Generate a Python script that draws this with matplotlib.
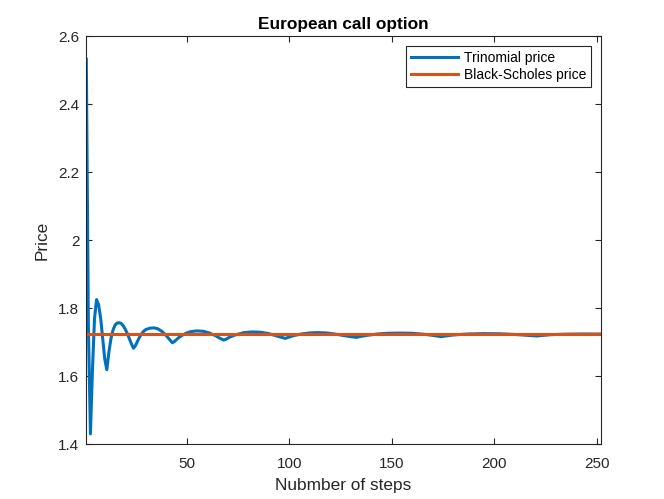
import matplotlib
matplotlib.use("Agg")
import matplotlib.pyplot as plt
from matplotlib.ticker import FormatStrFormatter

# values
steps = [1, 2, 3, 4, 5, 6, 7, 8, 9, 10, 11, 12, 13, 14, 15, 16, 17, 18, 19, 20,
         21, 22, 23, 24, 25, 26, 27, 28, 29, 30, 32, 34, 36, 38, 40, 42, 43, 44,
         46, 48, 50, 52, 55, 58, 61, 64, 66, 68, 69, 71, 74, 78, 82, 86, 90, 94,
         98, 99, 102, 106, 110, 114, 118, 122, 126, 130, 133, 134, 138, 143, 148,
         154, 160, 166, 171, 174, 175, 180, 187, 195, 203, 210, 216, 221, 222,
         228, 235, 243, 252]
trinomial = [2.532, 1.75, 1.43, 1.62, 1.77, 1.825, 1.81, 1.77, 1.71, 1.65, 1.619,
             1.67, 1.71, 1.735, 1.75, 1.756, 1.757, 1.755, 1.748, 1.738, 1.725,
             1.71, 1.695, 1.682, 1.69, 1.703, 1.715, 1.725, 1.732, 1.737, 1.741,
             1.742, 1.739, 1.731, 1.719, 1.705, 1.698, 1.702, 1.713, 1.721, 1.727,
             1.731, 1.733, 1.732, 1.727, 1.719, 1.712, 1.706, 1.708, 1.715, 1.722,
             1.728, 1.730, 1.729, 1.725, 1.718, 1.711, 1.713, 1.719, 1.724, 1.727,
             1.728, 1.727, 1.724, 1.720, 1.716, 1.714, 1.716, 1.720, 1.724, 1.726,
             1.7265, 1.726, 1.723, 1.719, 1.716, 1.717, 1.721, 1.724, 1.725,
             1.7245, 1.7225, 1.720, 1.718, 1.719, 1.722, 1.7235, 1.724, 1.7238]
bs_price = 1.7228
bs_steps = [1, 252]

plt.rcParams['font.family'] = ['Liberation Sans', 'DejaVu Sans']
axcol = '#262626'

fig = plt.figure(figsize=(6.64, 4.99), dpi=100)
fig.patch.set_facecolor('white')
ax = fig.add_axes([0.13, 0.11, 0.775, 0.8175])

ax.plot(steps, trinomial, color='#0072BD', lw=2.2, label='Trinomial price')
ax.plot(bs_steps, [bs_price] * len(bs_steps), color='#D95319', lw=2.2,
        label='Black-Scholes price')

ax.set_xlim(1, 252)
ax.set_ylim(1.4, 2.6)
ax.set_xticks([50, 100, 150, 200, 250])
ax.set_yticks([1.4, 1.6, 1.8, 2.0, 2.2, 2.4, 2.6])
ax.yaxis.set_major_formatter(FormatStrFormatter('%g'))

for s in ax.spines.values():
    s.set_color(axcol)
    s.set_linewidth(0.8)
ax.tick_params(direction='in', length=4, width=0.8, colors=axcol,
               labelsize=11, top=True, right=True)
ax.tick_params(axis='x', pad=9)
ax.tick_params(axis='y', pad=5)
for lab in ax.get_xticklabels() + ax.get_yticklabels():
    lab.set_color(axcol)

ax.set_title('European call option', fontsize=12.4, fontweight='bold', pad=5)
ax.set_xlabel('Nubmber of steps', fontsize=12.4, color=axcol, labelpad=5)
ax.set_ylabel('Price', fontsize=12.4, color=axcol, labelpad=6)

leg = ax.legend(loc='upper right', fontsize=10, fancybox=False, framealpha=1,
                edgecolor=axcol, handlelength=3.4, borderaxespad=0.7,
                borderpad=0.35, labelspacing=0.25, handletextpad=0.4)
leg.get_frame().set_linewidth(0.8)

fig.savefig('out.png', dpi=100)
